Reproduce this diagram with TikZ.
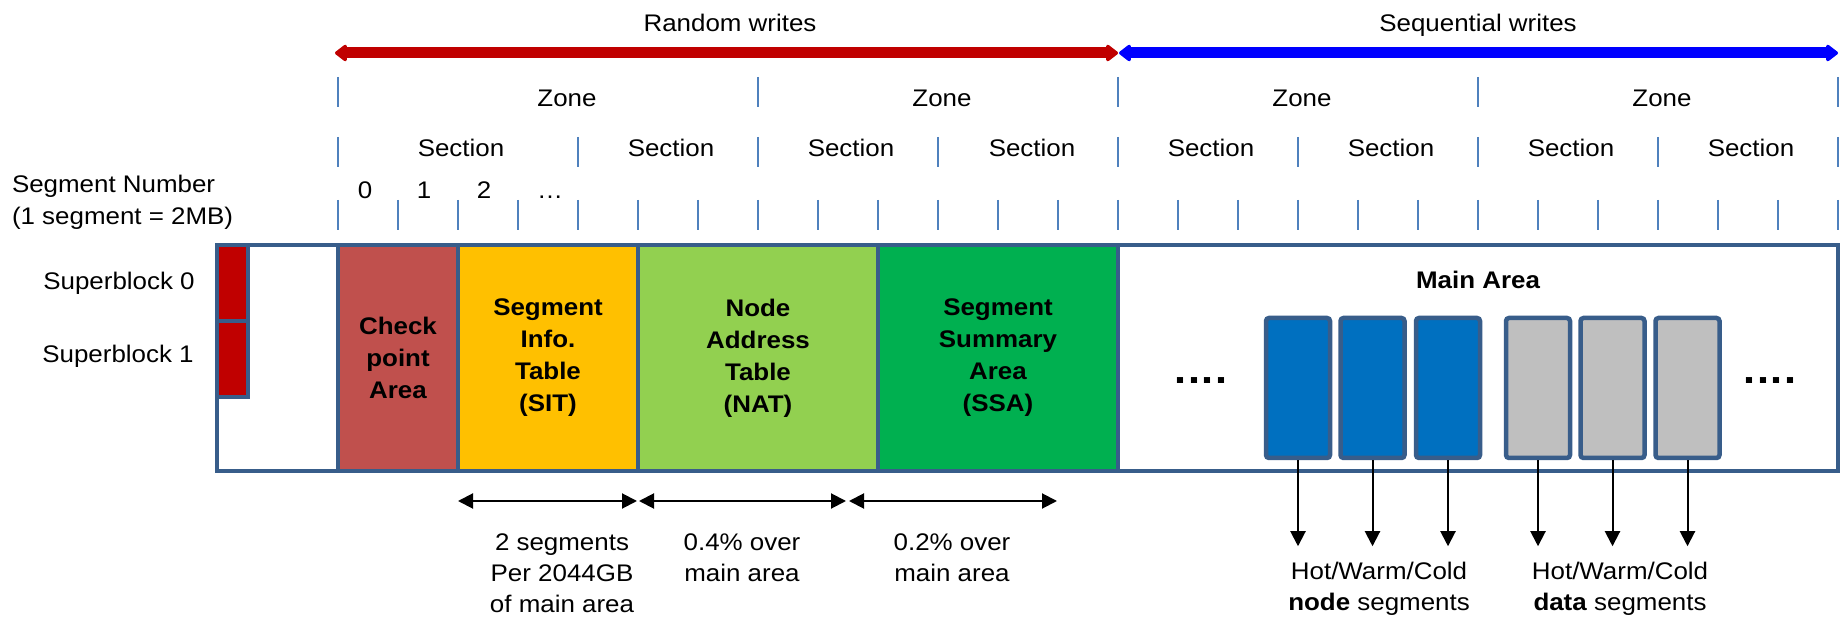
\documentclass[tikz,border=0pt]{standalone}
\usepackage{fontspec}
\setmainfont{Liberation Sans}[FakeStretch=1.08]
\usetikzlibrary{arrows.meta,calc}

\definecolor{frame}{HTML}{385D8A}
\definecolor{tickc}{HTML}{4F81BD}
\definecolor{sbred}{HTML}{C00000}
\definecolor{cpred}{HTML}{C0504D}
\definecolor{sitc}{HTML}{FFC000}
\definecolor{natc}{HTML}{92D050}
\definecolor{ssac}{HTML}{00B050}
\definecolor{nodeblue}{HTML}{0070C0}
\definecolor{datagray}{HTML}{BFBFBF}
\definecolor{rwred}{HTML}{C00000}
\definecolor{swblue}{HTML}{0000FF}

\tikzset{
  lbl/.style={font=\fontsize{12}{16}\selectfont, inner sep=0pt, outer sep=0pt},
  mlbl/.style={font=\fontsize{12}{15.5}\selectfont, inner sep=0pt, outer sep=0pt, align=center},
  area/.style={draw=frame, line width=2pt, minimum height=113pt, inner sep=0pt,
    font=\fontsize{12}{16}\selectfont\bfseries, align=center},
  sbbox/.style={draw=frame, line width=2pt, fill=sbred, minimum width=15.5pt,
    minimum height=38pt, inner sep=0pt},
  segbox/.style={draw=frame, line width=2.25pt, rounded corners=1.5pt,
    minimum width=32pt, minimum height=70pt, inner sep=0pt},
  tickline/.style={draw=tickc, line width=1pt},
  wide/.style={line width=5.5pt, {Triangle[round, length=6.5pt, width=9.5pt]}-{Triangle[round, length=6.5pt, width=9.5pt]}},
  dimarrow/.style={line width=1pt, {Triangle[length=7.5pt, width=7.5pt]}-{Triangle[length=7.5pt, width=7.5pt]}},
  downarrow/.style={line width=1pt, -{Triangle[length=7.5pt, width=7.5pt]}},
  dots/.style={font=\fontsize{20}{24}\selectfont\bfseries, inner sep=0pt}
}

\begin{document}
\begin{tikzpicture}[x=0.5pt, y=-0.5pt]
\useasboundingbox[fill=white] (0,0) rectangle (1842,619);

% write-pattern arrows across the top
\coordinate (rw0) at (335,53);
\coordinate (rw1) at (1118,53);
\coordinate (sw0) at (1119,53);
\coordinate (sw1) at (1838,53);
\draw[wide, rwred] (rw0) -- (rw1);
\draw[wide, swblue] (sw0) -- (sw1);
\node[lbl, anchor=base] (rwlbl) at (730,32) {Random writes};
\node[lbl, anchor=base] (swlbl) at (1478,32) {Sequential writes};

% zone, section and segment ruler
\foreach \x in {338,758,1118,1478,1838}
  \draw[tickline] (\x,77) -- (\x,107);
\foreach \x in {338,578,758,938,1118,1298,1478,1658,1838}
  \draw[tickline] (\x,137) -- (\x,167);
\foreach \i in {0,...,25}
  \draw[tickline] ({338+60*\i},200) -- ({338+60*\i},230);

\node[lbl, anchor=base] (z1) at (567,107) {Zone};
\node[lbl, anchor=base] (z2) at (942,107) {Zone};
\node[lbl, anchor=base] (z3) at (1302,107) {Zone};
\node[lbl, anchor=base] (z4) at (1662,107) {Zone};

\foreach \x [count=\k] in {461,671,851,1032,1211,1391,1571,1751}
  \node[lbl, anchor=base] (sec\k) at (\x,157) {Section};

\node[lbl, anchor=base] (n0) at (365,199) {0};
\node[lbl, anchor=base] (n1) at (424,199) {1};
\node[lbl, anchor=base] (n2) at (484,199) {2};
\node[lbl, anchor=base] (n3) at (550,199) {…};

\node[lbl, align=left, anchor=north west] (segnum) at (12,175)
  {Segment Number\\(1 segment = 2MB)};

% on-disk layout
\draw[frame, line width=2pt, fill=white] (217,245) rectangle (1838,471);
\node[sbbox] (sb0) at (232.5,283) {};
\node[sbbox] (sb1) at (232.5,359) {};
\node[lbl, anchor=base] (sb0lbl) at (119,290) {Superblock 0};
\node[lbl, anchor=base] (sb1lbl) at (118,363) {Superblock 1};

\node[area, fill=cpred, minimum width=60pt] (cp) at (398,358) {Check\\point\\Area};
\node[area, fill=sitc, minimum width=90pt] (sit) at (548,358) {Segment\\Info.\\Table\\(SIT)};
\node[area, fill=natc, minimum width=120pt] (nat) at (758,358) {Node\\Address\\Table\\(NAT)};
\node[area, fill=ssac, minimum width=120pt] (ssa) at (998,358) {Segment\\Summary\\Area\\(SSA)};
\node[area, fill=white, minimum width=360pt] (main) at (1478,358) {};
\node[lbl, font=\fontsize{12}{16}\selectfont\bfseries, anchor=base] (mainlbl) at (1478,289) {Main Area};

\node[dots, anchor=base] (dl) at (1201,384) {.\kern0.7pt.\kern0.7pt.\kern0.7pt.};
\node[dots, anchor=base] (dr) at (1770,384) {.\kern0.7pt.\kern0.7pt.\kern0.7pt.};

\node[segbox, fill=nodeblue] (nb1) at (1298,388) {};
\node[segbox, fill=nodeblue] (nb2) at (1372.5,388) {};
\node[segbox, fill=nodeblue] (nb3) at (1448,388) {};
\node[segbox, fill=datagray] (db1) at (1538,388) {};
\node[segbox, fill=datagray] (db2) at (1612.5,388) {};
\node[segbox, fill=datagray] (db3) at (1687.5,388) {};

% temperature arrows
\foreach \b in {nb1,nb2,nb3,db1,db2,db3}
  \coordinate (\b t) at ($(\b.south)+(0,86)$);
\foreach \b in {nb1,nb2,nb3,db1,db2,db3}
  \draw[downarrow] (\b.south) -- (\b t);

\node[mlbl] (hotnode) at (1379,589) {Hot/Warm/Cold\\\textbf{node} segments};
\node[mlbl] (hotdata) at (1620,589) {Hot/Warm/Cold\\\textbf{data} segments};

% size notes under the metadata areas
\coordinate (d0) at (458,501);
\coordinate (d1) at (637,501);
\coordinate (d2) at (639,501);
\coordinate (d3) at (846,501);
\coordinate (d4) at (849,501);
\coordinate (d5) at (1057,501);
\draw[dimarrow] (d0) -- (d1);
\draw[dimarrow] (d2) -- (d3);
\draw[dimarrow] (d4) -- (d5);

\node[mlbl] (sitsize) at (562,573) {2 segments\\Per 2044GB\\of main area};
\node[mlbl] (natsize) at (742,558) {0.4\% over\\main area};
\node[mlbl] (ssasize) at (952,558) {0.2\% over\\main area};
\end{tikzpicture}
\end{document}
